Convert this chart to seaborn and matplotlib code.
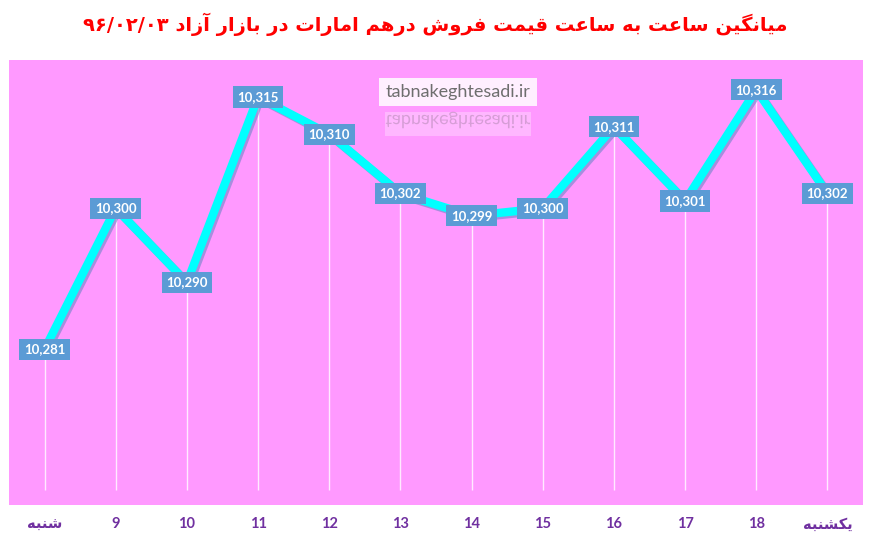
import matplotlib
matplotlib.use("Agg")
import matplotlib.pyplot as plt
import matplotlib.patheffects as pe
from matplotlib.textpath import TextPath
from matplotlib.patches import PathPatch, Rectangle
from matplotlib.font_manager import FontProperties
from matplotlib.transforms import Affine2D
import seaborn as sns
import pandas as pd

# data
hours = ["شنبه", "9", "10", "11", "12", "13", "14", "15", "16", "17", "18", "یکشنبه"]
prices = [10281, 10300, 10290, 10315, 10310, 10302, 10299, 10300, 10311, 10301, 10316, 10302]
title_text = "میانگین ساعت به ساعت قیمت فروش درهم امارات در بازار آزاد"
title_date = "\u06F9\u06F6/\u06F0\u06F2/\u06F0\u06F3"
watermark = "tabnakeghtesadi.ir"

# minimal Persian shaping (matplotlib has no complex text layout)
FORMS = {
    "\u0627": ("\uFE8D", "\uFE8E"),
    "\u0622": ("\uFE81", "\uFE82"),
    "\u062F": ("\uFEA9", "\uFEAA"),
    "\u0631": ("\uFEAD", "\uFEAE"),
    "\u0632": ("\uFEAF", "\uFEB0"),
    "\u0648": ("\uFEED", "\uFEEE"),
    "\u0628": ("\uFE8F", "\uFE90", "\uFE91", "\uFE92"),
    "\u062A": ("\uFE95", "\uFE96", "\uFE97", "\uFE98"),
    "\u0633": ("\uFEB1", "\uFEB2", "\uFEB3", "\uFEB4"),
    "\u0634": ("\uFEB5", "\uFEB6", "\uFEB7", "\uFEB8"),
    "\u0639": ("\uFEC9", "\uFECA", "\uFECB", "\uFECC"),
    "\u0641": ("\uFED1", "\uFED2", "\uFED3", "\uFED4"),
    "\u0642": ("\uFED5", "\uFED6", "\uFED7", "\uFED8"),
    "\u0645": ("\uFEE1", "\uFEE2", "\uFEE3", "\uFEE4"),
    "\u0646": ("\uFEE5", "\uFEE6", "\uFEE7", "\uFEE8"),
    "\u0647": ("\uFEE9", "\uFEEA", "\uFEEB", "\uFEEC"),
    "\u06CC": ("\uFBFC", "\uFBFD", "\uFBFE", "\uFBFF"),
    "\u06AF": ("\uFB92", "\uFB93", "\uFB94", "\uFB95"),
    "\u06A9": ("\uFB8E", "\uFB8F", "\uFB90", "\uFB91"),
}


def shape(text):
    text = text.replace("\u064A", "\u06CC").replace("\u0643", "\u06A9")
    out = []
    for i, ch in enumerate(text):
        f = FORMS.get(ch)
        if f is None:
            out.append(ch)
            continue
        prev = text[i - 1] if i > 0 else ""
        nxt = text[i + 1] if i + 1 < len(text) else ""
        join_prev = prev in FORMS and len(FORMS[prev]) == 4
        join_next = len(f) == 4 and nxt in FORMS
        if join_prev and join_next:
            out.append(f[3])
        elif join_prev:
            out.append(f[1])
        elif join_next:
            out.append(f[2])
        else:
            out.append(f[0])
    return "".join(reversed(out))


labels = [shape(h) if not h.isdigit() else h for h in hours]
df = pd.DataFrame({"pos": range(len(hours)), "price": prices})

W, H = 871, 541
fig, ax = plt.subplots(figsize=(W / 100, H / 100), dpi=100)
fig.patch.set_facecolor("white")
fig.subplots_adjust(left=9 / W, right=863 / W, top=1 - 60 / H, bottom=1 - 505 / H)
ax.set_facecolor("#FF99FF")

# white drop lines
ax.vlines(df["pos"], 10262, df["price"], colors="white", lw=1, alpha=0.8, zorder=1)

sns.lineplot(
    data=df, x="pos", y="price", color="#00FFFF", lw=6, ax=ax, zorder=2,
    path_effects=[pe.SimpleLineShadow(offset=(1.5, -1.5), shadow_color="#6f86c8", alpha=0.6),
                  pe.Normal()],
)

for x, y in zip(df["pos"], df["price"]):
    ax.text(x, y, f"{y:,}", ha="center", va="center", color="white",
            fontsize=9.5, fontweight="bold", family="Lato", zorder=4,
            bbox=dict(boxstyle="square,pad=0.35", fc="#5B9BD5", ec="none"))

ax.set_xlim(-0.5, len(hours) - 0.5)
ax.set_ylim(10260, 10320)
ax.set_yticks([])
ax.set_xticks(df["pos"])
ax.set_xticklabels(labels, color="#7030A0", fontweight="bold", fontsize=10.5,
                   family=["Lato", "DejaVu Sans"])
ax.tick_params(axis="x", length=0, pad=9)
ax.set_xlabel("")
ax.set_ylabel("")
for s in ax.spines.values():
    s.set_visible(False)

# title
fig.text(0.5, 1 - 24 / H, title_date + " " + shape(title_text), ha="center", va="center",
         color="#FF0000", fontsize=14, fontweight="bold", family="DejaVu Sans")

# watermark and its reflection
fig.text(458 / W, 1 - 92 / H, watermark, ha="center", va="center", color="#6e6e6e",
         fontsize=13, family="Lato", zorder=5,
         bbox=dict(boxstyle="square,pad=0.35", fc="white", ec="none", alpha=0.85))
tp = TextPath((0, 0), watermark, size=18, prop=FontProperties(family="Lato"))
ext = tp.get_extents()
tx = 458 - (ext.x0 + ext.x1) / 2
ty = H - 115
fig.patches.append(Rectangle((385 / W, 1 - 136 / H), 146 / W, 24 / H, transform=fig.transFigure,
                             fc="white", ec="none", alpha=0.3))
fig.patches.append(PathPatch(tp, transform=Affine2D().scale(1, -1).translate(tx, ty),
                             fc="#8a6f8a", ec="none", alpha=0.35))

fig.savefig("out.png", dpi=100)
